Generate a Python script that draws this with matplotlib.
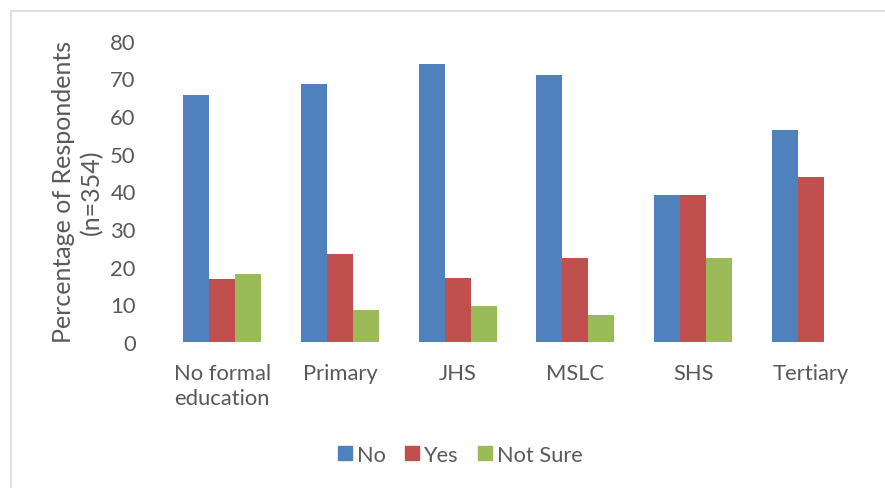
import numpy as np
import matplotlib.pyplot as plt
from matplotlib.lines import Line2D

plt.rcParams['font.family'] = ['Lato', 'DejaVu Sans']

categories = ['No formal\neducation', 'Primary', 'JHS', 'MSLC', 'SHS', 'Tertiary']
no_vals = [65.7, 68.4, 73.8, 71.0, 39.0, 56.2]
yes_vals = [16.6, 23.4, 16.9, 22.2, 39.0, 43.8]
notsure_vals = [18.0, 8.4, 9.5, 7.2, 22.3, 0.0]
series_names = ['No', 'Yes', 'Not Sure']
colors = ['#4F81BD', '#C0504D', '#9BBB59']
text_color = '#595959'

fig = plt.figure(figsize=(8.85, 4.89), dpi=100)
ax = fig.add_axes([0.1847, 0.2986, 0.798, 0.6161])

x = np.arange(len(categories))
w = 0.221
for i, vals in enumerate([no_vals, yes_vals, notsure_vals]):
    ax.bar(x + (i - 1) * w, vals, width=w, color=colors[i], label=series_names[i])

ax.set_xlim(-0.5, len(categories) - 0.5)
ax.set_ylim(0, 80)
ax.set_yticks(np.arange(0, 81, 10))
ax.set_xticks(x)
ax.set_xticklabels(categories, linespacing=1.3)
ax.tick_params(axis='both', length=0, labelsize=15.8, colors=text_color)
ax.tick_params(axis='y', pad=20)
ax.tick_params(axis='x', pad=15)
for s in ax.spines.values():
    s.set_visible(False)

ax.set_ylabel('Percentage of Respondents\n(n=354)', fontsize=18, color=text_color,
              labelpad=5, linespacing=1.25)

# legend
handles = [Line2D([], [], marker='s', linestyle='none', markersize=10,
                  markerfacecolor=c, markeredgecolor=c) for c in colors]
leg = fig.legend(handles, series_names, loc='center', bbox_to_anchor=(459 / 885, 1 - 456 / 489),
                 ncol=3, frameon=False, fontsize=15.7, handletextpad=0.1, columnspacing=0.75,
                 handlelength=0.9)
for t in leg.get_texts():
    t.set_color(text_color)

# outer chart border (left and top only visible in crop)
fig.add_artist(Line2D([11 / 885, 11 / 885], [0, 1 - 12 / 489], color='#D9D9D9', lw=1.2,
                      transform=fig.transFigure))
fig.add_artist(Line2D([11 / 885, 1], [1 - 12 / 489, 1 - 12 / 489], color='#D9D9D9', lw=1.2,
                      transform=fig.transFigure))

fig.savefig('out.png', dpi=100)
